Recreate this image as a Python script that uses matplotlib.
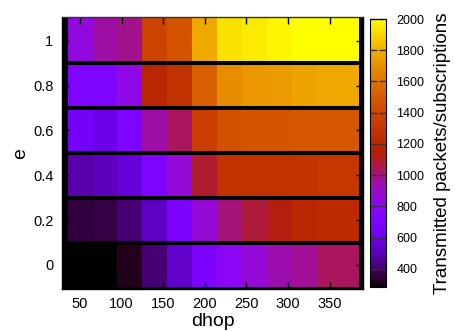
import numpy as np
import matplotlib.pyplot as plt
from matplotlib.colors import ListedColormap

plt.rcParams['font.family'] = ['Liberation Sans', 'DejaVu Sans']

# cell edges along dhop (last cell is wider), rows of e
dhop_edges = [35, 65, 95, 125, 155, 185, 215, 245, 275, 305, 335, 385]
e_values = [0.0, 0.2, 0.4, 0.6, 0.8, 1.0]

# transmitted packets/subscriptions, one list per e row (bottom to top)
packets_e00 = [285, 284, 317, 412, 532, 695, 798, 867, 935, 970, 1038]
packets_e02 = [352, 360, 412, 523, 695, 867, 1004, 1081, 1124, 1193, 1227]
packets_e04 = [489, 515, 558, 712, 867, 1090, 1270, 1279, 1279, 1288, 1305]
packets_e06 = [643, 592, 712, 944, 1038, 1348, 1460, 1468, 1468, 1477, 1477]
packets_e08 = [712, 712, 832, 1193, 1279, 1519, 1691, 1725, 1734, 1760, 1777]
packets_e10 = [850, 953, 987, 1382, 1468, 1777, 1931, 1948, 1974, 1998, 2000]

rows = [packets_e00, packets_e02, packets_e04, packets_e06, packets_e08, packets_e10]

vmin, vmax = 283, 2000

# gnuplot default palette (rgbformulae 7,5,15)
t = np.linspace(0, 1, 256)
r = np.sqrt(t)
g = t ** 3
b = np.clip(np.sin(2 * np.pi * t), 0, 1)
cmap = ListedColormap(np.column_stack([r, g, b]))

fig = plt.figure(figsize=(4.55, 3.31), dpi=100)
ax = fig.add_axes([62.3 / 455, 1 - 289 / 331, (363 - 62.3) / 455, (289 - 17.3) / 331])
ax.set_facecolor('black')

x_edges = np.array(dhop_edges)
for e, vals in zip(e_values, rows):
    y_edges = np.array([e - 0.1, e + 0.1])
    mesh = ax.pcolormesh(x_edges, y_edges, np.array([vals]), cmap=cmap,
                         vmin=vmin, vmax=vmax, shading='flat')

for e in e_values[:-1]:
    ax.axhline(e + 0.1, color='black', lw=2.9)

ax.set_xlim(28.7, 390)
ax.set_ylim(-0.107, 1.104)
ax.set_xticks([50, 100, 150, 200, 250, 300, 350])
ax.set_yticks(e_values)
ax.set_yticklabels(['0', '0.2', '0.4', '0.6', '0.8', '1'])
ax.tick_params(direction='in', top=True, right=True, length=5, width=1,
               labelsize=10.5, color='black')
ax.tick_params(axis='x', pad=6)
ax.tick_params(axis='y', pad=6.5)
for s in ax.spines.values():
    s.set_color('black')
    s.set_linewidth(1)
ax.spines['top'].set_color('#333333')

ax.set_xlabel('dhop', fontsize=14, labelpad=1)
ax.set_ylabel('e', fontsize=14, labelpad=3)

cax = fig.add_axes([370 / 455, 1 - 287 / 331, 16 / 455, 268 / 331])
cb = fig.colorbar(mesh, cax=cax)
cb.set_ticks([400, 600, 800, 1000, 1200, 1400, 1600, 1800, 2000])
cb.ax.tick_params(direction='in', left=True, right=True, length=5, width=1,
                  labelsize=9, pad=7.5, color='#333333')
cb.outline.set_linewidth(0.8)
cb.set_label('Transmitted packets/subscriptions', fontsize=13.5, labelpad=7)

fig.savefig('out.png', dpi=100)
